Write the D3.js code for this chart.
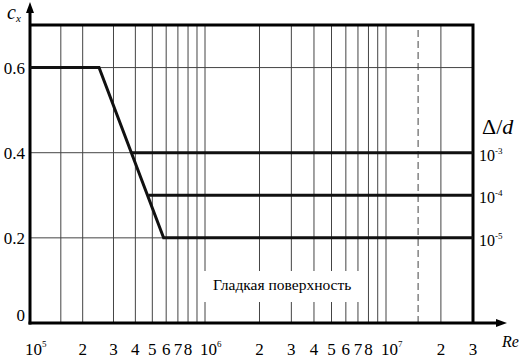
<!DOCTYPE html>
<html>
<head>
<meta charset="utf-8">
<script src="https://cdn.jsdelivr.net/npm/d3@7"></script>
<style>
  body { margin: 0; background: #fff; }
</style>
</head>
<body>
<svg id="chart" width="521" height="361" font-family="Liberation Serif, DejaVu Serif, serif"></svg>
<script>
// drag coefficient vs Reynolds number, three roughness levels
const gridRe = [1.5e5, 2e5, 3e5, 4e5, 5e5, 6e5, 7e5, 8e5, 9e5, 1e6,
                2e6, 3e6, 4e6, 5e6, 6e6, 7e6, 8e6, 9e6, 1e7, 2e7];
const dashedRe = [1.5e7];
const tickRe = [1e5, 2e5, 3e5, 4e5, 5e5, 6e5, 7e5, 8e5, 1e6,
                2e6, 3e6, 4e6, 5e6, 6e6, 7e6, 8e6, 1e7, 2e7, 3e7];
const yTicks = [0, 0.2, 0.4, 0.6];

// main curve (smooth surface, delta/d = 1e-5)
const mainCurve = [[1e5, 0.6], [2.48e5, 0.6], [5.8e5, 0.2], [3e7, 0.2]];
// rough branches
const branchStart = [3.82e5, 4.75e5];
const branchCx = [0.4, 0.3];
const roughLabels = ["-3", "-4", "-5"];
const roughCx = [0.4, 0.3, 0.2];

const serif = "'Liberation Serif', 'DejaVu Serif', serif";
const svg = d3.select("#chart");
// decades are drawn a bit unevenly in the original
const x = d3.scaleLog().domain([1e5, 1e6, 1e7, 3e7]).range([30, 205, 386, 473]);
const y = d3.scaleLinear().domain([0, 0.7]).range([323, 25]);

const grid = svg.append("g").attr("stroke", "#444").attr("stroke-width", 1);

grid.selectAll("line.v")
  .data(gridRe)
  .join("line")
  .attr("class", "v")
  .attr("x1", d => x(d)).attr("x2", d => x(d))
  .attr("y1", y(0)).attr("y2", y(0.7));

grid.selectAll("line.d")
  .data(dashedRe)
  .join("line")
  .attr("class", "d")
  .attr("x1", d => x(d)).attr("x2", d => x(d))
  .attr("y1", y(0)).attr("y2", y(0.7))
  .attr("stroke-dasharray", "7,4");

grid.selectAll("line.h")
  .data(yTicks.filter(d => d > 0))
  .join("line")
  .attr("class", "h")
  .attr("x1", x(1e5)).attr("x2", x(3e7))
  .attr("y1", d => y(d)).attr("y2", d => y(d));

// white patch behind the label
svg.append("rect")
  .attr("x", 203).attr("y", 271).attr("width", 158).attr("height", 31)
  .attr("fill", "#fff");
svg.append("text")
  .attr("x", 213).attr("y", 290)
  .attr("font-size", 15.5)
  .style("font-family", serif)
  .text("Гладкая поверхность");

// frame: top and right
svg.append("path")
  .attr("d", `M${x(1e5)},${y(0.7)}H${x(3e7)}V${y(0)}`)
  .attr("fill", "none").attr("stroke", "#000").attr("stroke-width", 3);

// axes with arrows
const ax = svg.append("g").attr("stroke", "#000").attr("stroke-width", 3).attr("fill", "none");
ax.append("line").attr("x1", x(1e5)).attr("x2", x(1e5)).attr("y1", y(0) + 1.5).attr("y2", 10);
ax.append("line").attr("x1", x(1e5) - 1.5).attr("x2", 500).attr("y1", y(0)).attr("y2", y(0));
svg.append("path").attr("d", `M${x(1e5)},2L${x(1e5) - 4},13L${x(1e5) + 4},13Z`);
svg.append("path").attr("d", `M507,${y(0)}L496,${y(0) - 4}L496,${y(0) + 4}Z`);

// curves
const line = d3.line().x(d => x(d[0])).y(d => y(d[1]));
svg.append("path")
  .datum(mainCurve)
  .attr("d", line)
  .attr("fill", "none").attr("stroke", "#111").attr("stroke-width", 3)
  .attr("stroke-linejoin", "miter");

svg.selectAll("line.branch")
  .data(branchStart)
  .join("line")
  .attr("class", "branch")
  .attr("x1", d => x(d)).attr("x2", x(3e7))
  .attr("y1", (d, i) => y(branchCx[i])).attr("y2", (d, i) => y(branchCx[i]))
  .attr("stroke", "#111").attr("stroke-width", 3);

// y tick labels
svg.selectAll("text.yt")
  .data(yTicks)
  .join("text")
  .attr("class", "yt")
  .attr("x", 25)
  .attr("y", d => y(d) + (d === 0 ? -2 : 6))
  .attr("text-anchor", "end")
  .attr("font-size", 17)
  .style("font-family", serif)
  .text(d => d === 0 ? "0" : d3.format(".1f")(d));

// x tick labels
const xt = svg.selectAll("text.xt")
  .data(tickRe)
  .join("text")
  .attr("class", "xt")
  .attr("y", 355)
  .attr("font-size", 17)
  .style("font-family", serif)
  .attr("text-anchor", d => Math.log10(d) % 1 === 0 ? "start" : "middle")
  .attr("x", d => Math.log10(d) % 1 === 0 ? x(d) - 5 : x(d));
xt.each(function(d) {
  const t = d3.select(this);
  const p = Math.round(Math.log10(d));
  if (Math.abs(Math.log10(d) - p) < 1e-9) {
    t.append("tspan").text("10");
    t.append("tspan").attr("font-size", 9).attr("dy", -8).text(p);
  } else {
    t.text(Math.round(d / Math.pow(10, Math.floor(Math.log10(d)))));
  }
});

// roughness labels
svg.append("text")
  .attr("x", 482).attr("y", 134)
  .attr("font-size", 22)
  .style("font-family", serif)
  .html('Δ/<tspan font-style="italic">d</tspan>');
svg.selectAll("text.rl")
  .data(roughLabels)
  .join("text")
  .attr("class", "rl")
  .attr("x", 479)
  .attr("y", (d, i) => y(roughCx[i]) + 8)
  .attr("font-size", 16)
  .style("font-family", serif)
  .each(function(d) {
    const t = d3.select(this);
    t.append("tspan").text("10");
    t.append("tspan").attr("font-size", 9).attr("dy", -7).text(d);
  });

// axis titles
const cx = svg.append("text").attr("x", 7).attr("y", 19).attr("font-size", 20)
  .attr("font-style", "italic").style("font-family", serif);
cx.append("tspan").text("c");
cx.append("tspan").attr("font-size", 11).attr("dy", 3).text("x");
svg.append("text")
  .attr("x", 502).attr("y", 347)
  .attr("font-size", 16).attr("font-style", "italic")
  .style("font-family", serif)
  .text("Re");
</script>
</body>
</html>
